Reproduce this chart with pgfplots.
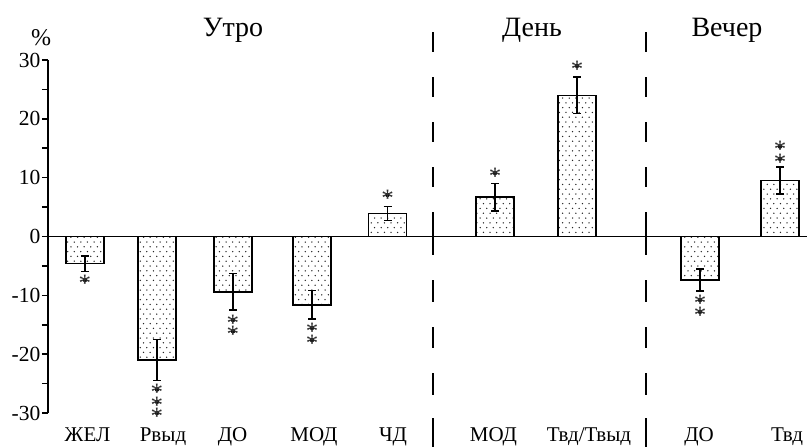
\documentclass[border=0pt]{standalone}
\usepackage{fontspec}
\setmainfont{Liberation Serif}
\usepackage{pgfplots}
\usepackage{pgfplotstable}
\pgfplotsset{compat=1.18}
\usetikzlibrary{patterns}
\pgfdeclarepatternformonly{sdots}{\pgfpoint{-1pt}{-1pt}}{\pgfpoint{7.6pt}{10.6pt}}{\pgfpoint{6.6pt}{9.6pt}}{%
  \pgfpathcircle{\pgfpoint{1.65pt}{2.4pt}}{0.75pt}%
  \pgfpathcircle{\pgfpoint{4.95pt}{7.2pt}}{0.75pt}%
  \pgfusepath{fill}}

\pgfplotstableread{
x y e
85 -4.6 1.3
157 -21.0 3.5
233 -9.4 3.1
312 -11.6 2.45
387.5 3.9 1.15
495 6.7 2.35
577 24.0 3.1
700 -7.4 1.85
780 9.5 2.3
}\bardata

\pgfplotstableread{
x y
85 -7.4
157 -26.0
157 -28.1
157 -30.0
233 -14.2
233 -16.1
312 -15.55
312 -17.6
387.5 7.05
495 10.8
577 29.0
700 -10.8
700 -12.8
780 15.3
780 13.2
}\stardata

\begin{document}
\begin{tikzpicture}
\begin{axis}[
  scale only axis,
  width=759pt, height=353pt,
  xmin=48, xmax=807,
  ymin=-30, ymax=30,
  clip=false,
  axis y line*=left,
  axis x line*=middle,
  axis line style={line width=1.8pt, black},
  xtick=\empty,
  ytick={-30,-20,-10,0,10,20,30},
  yticklabels={-30,-20,-10,0,10,20,30},
  minor y tick num=1,
  tick align=outside,
  major tick length=6pt,
  minor tick length=6pt,
  tick style={line width=1.6pt, black},
  yticklabel style={font=\fontsize{21.5}{21.5}\selectfont, inner sep=1.5pt},
]
\addplot[ybar, bar width=38, draw=black, line width=1.5pt,
  pattern=sdots, pattern color=black!85,
  error bars/.cd, y dir=both, y explicit,
  error bar style={line width=1.4pt, black},
  error mark options={black, line width=1.4pt, mark size=4pt, rotate=90}]
  table[x=x, y=y, y error=e] {\bardata};

\addplot[only marks, mark=*, mark options={draw=none, fill=none},
  nodes near coords={*},
  every node near coord/.style={anchor=center, inner sep=0pt, yshift=-3.2pt,
    font=\fontsize{25}{25}\selectfont, text=black!80}]
  table[x=x, y=y] {\stardata};

\addplot[black, line width=1.8pt, forget plot,
  dash pattern=on 20pt off 25pt on 20pt off 25pt on 20pt off 25pt on 20pt off 25pt on 43pt off 25pt on 22pt off 25pt on 21pt off 25pt on 22pt off 23pt on 30pt]
  coordinates {(433,34.76) (433,-35.95)};
\addplot[black, line width=1.8pt, forget plot,
  dash pattern=on 20pt off 25pt on 20pt off 25pt on 20pt off 25pt on 20pt off 25pt on 43pt off 25pt on 22pt off 25pt on 21pt off 25pt on 22pt off 23pt on 30pt]
  coordinates {(646,34.76) (646,-35.95)};

\begin{scope}[font=\fontsize{21}{21}\selectfont]
\node[anchor=base] at (axis cs:87.5,-34.8) {ЖЕЛ};
\node[anchor=base] at (axis cs:163,-34.8) {Рвыд};
\node[anchor=base] at (axis cs:232.5,-34.8) {ДО};
\node[anchor=base] at (axis cs:314,-34.8) {МОД};
\node[anchor=base] at (axis cs:393,-34.8) {ЧД};
\node[anchor=base] at (axis cs:493.5,-34.8) {МОД};
\node[anchor=base] at (axis cs:589,-34.8) {Твд/Твыд};
\node[anchor=base] at (axis cs:699,-34.8) {ДО};
\node[anchor=base] at (axis cs:787,-34.8) {Твд};
\end{scope}
\begin{scope}[font=\fontsize{28}{28}\selectfont]
\node[anchor=base] at (axis cs:233,34.08) {Утро};
\node[anchor=base] at (axis cs:532,34.08) {День};
\node[anchor=base] at (axis cs:727,34.08) {Вечер};
\end{scope}
\node[anchor=base, font=\fontsize{24}{24}\selectfont] at (axis cs:41,32.55) {\%};

\coordinate (bbl) at (axis cs:0,-35.61);
\coordinate (btr) at (axis cs:807,40.2);
\end{axis}
\pgfresetboundingbox
\path[use as bounding box] (bbl) rectangle (btr);
\end{tikzpicture}
\end{document}
